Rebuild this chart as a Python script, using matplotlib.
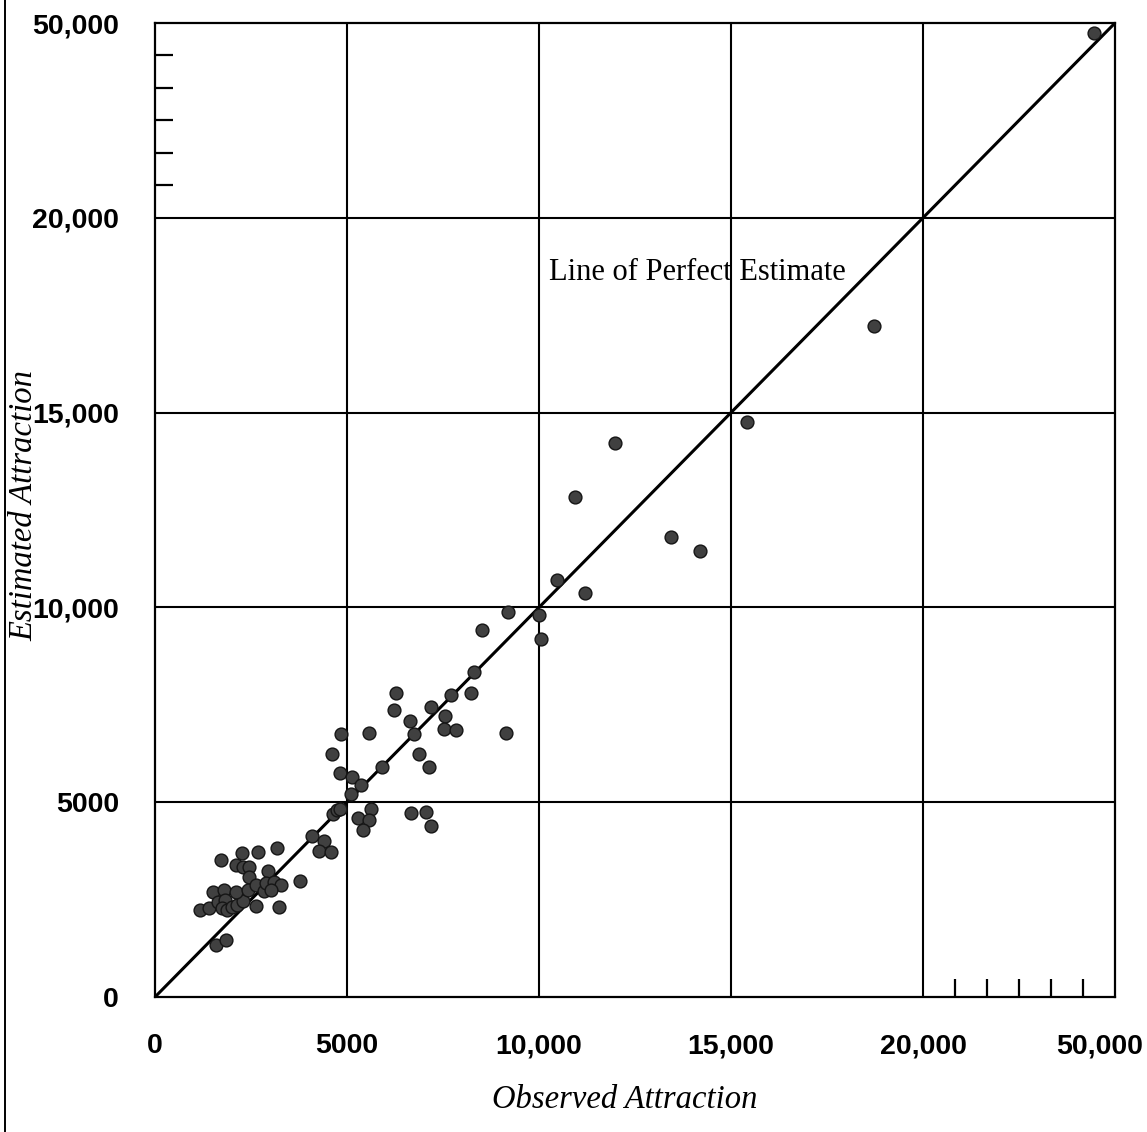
import numpy as np
import matplotlib
matplotlib.use("Agg")
import matplotlib.pyplot as plt
from matplotlib.ticker import FixedLocator, FixedFormatter
from matplotlib.lines import Line2D

# ---- data (observed, estimated) ----
observed = [1180, 1410, 1520, 1730, 1800, 1650, 1830, 1750, 1880, 2010,
            2140, 2300, 2120, 2120, 2270, 2300, 2460, 2460, 2410, 2640,
            2640, 2670, 2850, 2930, 2900, 3090, 3270, 3010, 3190, 3220,
            3770, 4100, 4390, 4260, 4580, 1590, 1860, 4630, 4730,
            6270, 6220, 4840, 5570, 4600, 4810, 5120, 5360, 5100, 5910,
            6640, 6750, 7190, 7560, 7530, 7840, 7710, 8240, 8310, 6880,
            7140, 4810, 5620, 5280, 5570, 5410, 6670, 7060, 7190,
            8520, 9200, 9990, 10040, 10480, 11190, 10950, 11970, 13440,
            14200, 15420, 18720, 46670, 9150]
estimated = [2230, 2280, 2700, 3520, 2750, 2440, 2490, 2280, 2230, 2310,
             2360, 2460, 2700, 3390, 3700, 3340, 3340, 3080, 2750, 2870,
             2340, 3720, 2720, 3230, 2930, 2950, 2870, 2750, 3820, 2310,
             2980, 4130, 4000, 3750, 3720, 1330, 1460, 4700, 4800,
             7800, 7370, 6750, 6780, 6240, 5750, 5650, 5440, 5210, 5900,
             7080, 6750, 7440, 7210, 6880, 6850, 7750, 7800, 8340, 6240,
             5900, 4830, 4830, 4590, 4540, 4290, 4720, 4750, 4390,
             9420, 9880, 9800, 9190, 10700, 10370, 12830, 14220, 11810,
             11450, 14760, 17220, 48460, 6780]

major_ticks = [0, 5000, 10000, 15000, 20000, 50000]
x_tick_labels = ["0", "5000", "10,000", "15,000", "20,000", "50,000"]
y_tick_labels = ["0", "5000", "10,000", "15,000", "20,000", "50,000"]
minor_ticks = [25000, 30000, 35000, 40000, 45000]
line_values = [0, 20000, 50000]

# broken (piecewise linear) scale: 0-20000 in 4 units, 20000-50000 in 1 unit
def fwd(v):
    v = np.asarray(v, dtype=float)
    return np.where(v <= 20000, v / 5000.0, 4 + (v - 20000) / 30000.0)

def inv(p):
    p = np.asarray(p, dtype=float)
    return np.where(p <= 4, p * 5000.0, 20000 + (p - 4) * 30000.0)

fig = plt.figure(figsize=(11.47, 11.32), dpi=100)
ax = fig.add_axes([155/1147, 135/1132, 960/1147, 974/1132])
ax.set_xscale('function', functions=(fwd, inv))
ax.set_yscale('function', functions=(fwd, inv))
ax.set_xlim(0, 50000)
ax.set_ylim(0, 50000)

for v in major_ticks[1:-1]:
    ax.axvline(v, color='black', lw=1.5, zorder=1)
    ax.axhline(v, color='black', lw=1.5, zorder=1)

ax.plot(line_values, line_values, color='black', lw=2.2, zorder=2)
ax.scatter(observed, estimated, s=85, facecolor='#404040', edgecolor='#151515',
           linewidths=1.0, zorder=3)

ax.text(10250, 18600, "Line of Perfect Estimate",
        family='Liberation Serif', fontsize=22, ha='left', va='center')

for s in ax.spines.values():
    s.set_linewidth(1.6)
    s.set_color('black')

x_labels_shown = x_tick_labels[:-1] + [""]
ax.xaxis.set_major_locator(FixedLocator(major_ticks))
ax.xaxis.set_major_formatter(FixedFormatter(x_labels_shown))
ax.yaxis.set_major_locator(FixedLocator(major_ticks))
ax.yaxis.set_major_formatter(FixedFormatter(y_tick_labels))
ax.xaxis.set_minor_locator(FixedLocator(minor_ticks))
ax.yaxis.set_minor_locator(FixedLocator(minor_ticks))
ax.xaxis.set_minor_formatter(FixedFormatter([""] * 5))
ax.yaxis.set_minor_formatter(FixedFormatter([""] * 5))

ax.tick_params(axis='both', which='major', length=0, pad=26)
ax.tick_params(axis='both', which='minor', direction='in', length=13, width=1.6,
               color='black')
for lab in ax.get_xticklabels() + ax.get_yticklabels():
    lab.set_family('Liberation Sans')
    lab.set_fontweight('bold')
    lab.set_fontsize(20.5)

# last x tick label, pulled slightly left as in the original
fig.text(1100/1147, 1 - 1033/1132, x_tick_labels[-1], family='Liberation Sans',
         fontweight='bold', fontsize=20.5, ha='center', va='top')

fig.text(625/1147, 1 - 1100/1132, "Observed Attraction", family='Liberation Serif',
         style='italic', fontsize=23.5, ha='center', va='center')
fig.text(24/1147, 1 - 505/1132, "Estimated Attraction", family='Liberation Serif',
         style='italic', fontsize=23.5, ha='center', va='center', rotation=90)

fig.add_artist(Line2D([5/1147, 5/1147], [0, 1], color='black', lw=1.4,
                      transform=fig.transFigure))

fig.savefig("out.png", dpi=100, facecolor='white')
